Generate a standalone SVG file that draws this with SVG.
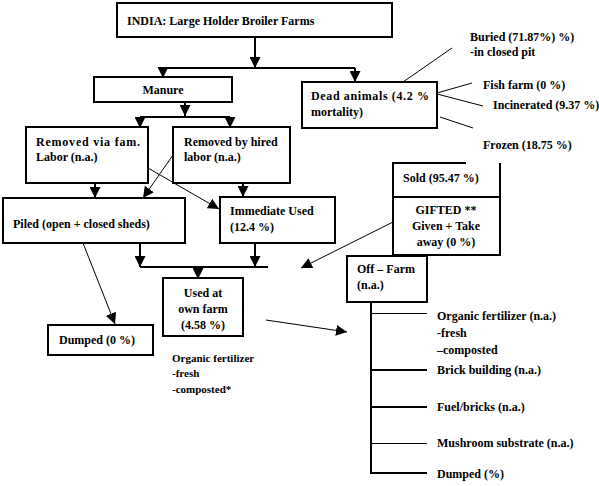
<svg xmlns="http://www.w3.org/2000/svg" width="599" height="486" viewBox="0 0 599 486">
<style>
text{font-family:"Liberation Serif","Times New Roman",serif;font-size:12px;font-weight:bold;fill:#000}
.sm{font-size:11px}
.box{fill:#fff;stroke:#000;stroke-width:2}
.thk{fill:none;stroke:#000;stroke-width:2}
.thn{fill:none;stroke:#000;stroke-width:1}
.mid{text-anchor:middle}
</style>
<defs>
<marker id="ah" markerUnits="userSpaceOnUse" markerWidth="11" markerHeight="11" refX="10" refY="5" orient="auto" viewBox="0 0 10 10">
<path d="M0,0 L10,5 L0,10 z" fill="#000"/>
</marker>
</defs>
<rect width="599" height="486" fill="#fff"/>
<g id="connectors">
<path class="thk" d="M255,37 V68" marker-end="url(#ah)"/>
<path class="thk" d="M163,68 H355"/>
<path class="thk" d="M163,68 V78" marker-end="url(#ah)"/>
<path class="thk" d="M355,68 V82" marker-end="url(#ah)"/>
<path class="thk" d="M185,102 V116" marker-end="url(#ah)"/>
<path class="thk" d="M140,117 H230"/>
<path class="thk" d="M140,117 V128" marker-end="url(#ah)"/>
<path class="thk" d="M230,117 V128" marker-end="url(#ah)"/>
<path class="thk" d="M95,183 V198" marker-end="url(#ah)"/>
<path class="thn" d="M173,155 L143,198" marker-end="url(#ah)"/>
<path class="thn" d="M148,168 L219,209" marker-end="url(#ah)"/>
<path class="thk" d="M243,183 V197" marker-end="url(#ah)"/>
<path class="thk" d="M140,243 V267" marker-end="url(#ah)"/>
<path class="thk" d="M255,243 V267" marker-end="url(#ah)"/>
<path class="thk" d="M140,267 H268"/>
<path class="thk" d="M198,267 V279" marker-end="url(#ah)"/>
<path class="thn" d="M83,243 L115,324" marker-end="url(#ah)"/>
<path class="thn" d="M266,320 L347,332" marker-end="url(#ah)"/>
<path class="thn" d="M393,222 L301,268" marker-end="url(#ah)"/>
<path class="thn" d="M403,82 L452,48"/>
<path class="thn" d="M437,93 L472,83"/>
<path class="thn" d="M437,94 L483,106"/>
<path class="thn" d="M440,117 L473,128"/>
<path class="thk" d="M371,302 V474"/>
<path class="thn" d="M371,313.5 H427"/>
<path class="thk" d="M371,370 H427"/>
<path class="thk" d="M371,407 H427"/>
<path class="thn" d="M371,443.5 H427"/>
<path class="thk" d="M371,473 H427"/>
</g>
<g id="india">
<rect class="box" x="117" y="3" width="275" height="34"/>
<text x="127" y="25">INDIA: Large Holder Broiler Farms</text>
</g>
<g id="manure">
<rect class="box" x="94" y="77" width="138" height="25"/>
<text class="mid" x="163" y="94">Manure</text>
</g>
<g id="dead">
<rect class="box" x="302" y="82" width="135" height="46"/>
<text x="311" y="100" textLength="118" lengthAdjust="spacing">Dead animals (4.2 %</text>
<text x="311" y="116">mortality)</text>
</g>
<g id="buried"><text x="470" y="41">Buried (71.87%) %)</text><text x="470" y="56">-in closed pit</text></g>
<g id="fish"><text x="483" y="89">Fish farm (0 %)</text></g>
<g id="incinerated"><text x="493" y="109">Incinerated (9.37 %)</text></g>
<g id="frozen"><text x="483" y="149">Frozen (18.75 %)</text></g>
<g id="fam">
<rect class="box" x="26" y="127" width="122" height="56"/>
<text x="36" y="146" textLength="104" lengthAdjust="spacing">Removed via fam.</text>
<text x="36" y="161">Labor (n.a.)</text>
</g>
<g id="hired">
<rect class="box" x="173" y="127" width="117" height="56"/>
<text x="184" y="146">Removed by hired</text>
<text x="184" y="161">labor (n.a.)</text>
</g>
<g id="piled">
<rect class="box" x="3" y="198" width="182" height="45"/>
<text x="13" y="228">Piled (open + closed sheds)</text>
</g>
<g id="immediate">
<rect class="box" x="220" y="197" width="115" height="46"/>
<text x="230" y="215">Immediate Used</text>
<text x="230" y="231">(12.4 %)</text>
</g>
<g id="soldgifted">
<path class="thk" d="M466,163 H393 V255 H500 V163"/>
<path class="thk" d="M393,197 H500"/>
<text x="403" y="182">Sold (95.47 %)</text>
<text class="mid" x="446" y="214">GIFTED **</text>
<text class="mid" x="446" y="230">Given + Take</text>
<text class="mid" x="446" y="246">away (0 %)</text>
</g>
<g id="offfarm">
<rect class="box" x="347" y="256" width="80" height="46"/>
<text x="357" y="273">Off – Farm</text>
<text x="357" y="289">(n.a.)</text>
</g>
<g id="usedown">
<rect class="box" x="163" y="278" width="80" height="58"/>
<text class="mid" x="203" y="297">Used at</text>
<text class="mid" x="203" y="313">own farm</text>
<text class="mid" x="203" y="329">(4.58 %)</text>
<text class="sm" x="172" y="362">Organic fertilizer</text>
<text class="sm" x="172" y="377">-fresh</text>
<text class="sm" x="172" y="393">-composted*</text>
</g>
<g id="dumped">
<rect class="box" x="48" y="325" width="105" height="30"/>
<text x="59" y="344">Dumped (0 %)</text>
</g>
<g id="offuses">
<text x="437" y="320">Organic fertilizer (n.a.)</text>
<text x="437" y="337">-fresh</text>
<text x="437" y="354">–composted</text>
<text x="437" y="374">Brick building  (n.a.)</text>
<text x="437" y="411">Fuel/bricks (n.a.)</text>
<text x="437" y="447">Mushroom substrate (n.a.)</text>
<text x="437" y="478">Dumped (%)</text>
</g>
</svg>
